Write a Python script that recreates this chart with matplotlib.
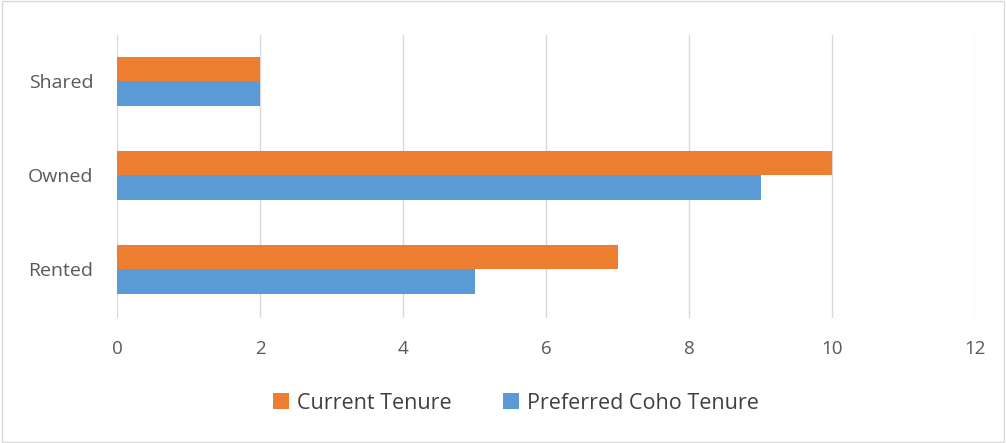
import numpy as np
import matplotlib
matplotlib.use("Agg")
import matplotlib.pyplot as plt
from matplotlib.patches import Rectangle

categories = ["Rented", "Owned", "Shared"]
current_tenure = [7, 10, 2]
preferred_coho = [5, 9, 2]
xticks = [0, 2, 4, 6, 8, 10, 12]

orange = "#ED7D31"
blue = "#5B9BD5"
text_col = "#595959"

plt.rcParams['font.family'] = ['Open Sans', 'DejaVu Sans']

fig = plt.figure(figsize=(10.06, 4.43), dpi=100)
ax = fig.add_axes([0.1163, 0.2822, 0.8529, 0.6388])

y = np.arange(len(categories))
h = 0.26
ax.barh(y + h / 2, current_tenure, height=h, color=orange, label="Current Tenure", zorder=3)
ax.barh(y - h / 2, preferred_coho, height=h, color=blue, label="Preferred Coho Tenure", zorder=3)

ax.set_xlim(0, 12)
ax.set_ylim(-0.52, 2.49)
ax.set_xticks(xticks)
ax.set_xticklabels([str(t) for t in xticks])
ax.set_yticks(y)
ax.set_yticklabels(categories)
ax.tick_params(axis='x', length=0, labelsize=13.5, colors=text_col, pad=16)
ax.tick_params(axis='y', length=0, labelsize=14, colors=text_col, pad=17)
ax.grid(axis='x', color="#d9d9d9", linewidth=1, zorder=0)
for s in ax.spines.values():
    s.set_visible(False)

leg = fig.legend(loc='center', bbox_to_anchor=(0.513, 0.09), ncol=2, frameon=False,
                 fontsize=15.5, handlelength=0.75, handleheight=0.75, handletextpad=0.35,
                 columnspacing=2.4)
for t in leg.get_texts():
    t.set_color("#404040")

fig.patches.append(Rectangle((0.002, 0.003), 0.996, 0.994, transform=fig.transFigure,
                             fill=False, edgecolor="#d9d9d9", linewidth=1))

fig.savefig("out.png", dpi=100)
